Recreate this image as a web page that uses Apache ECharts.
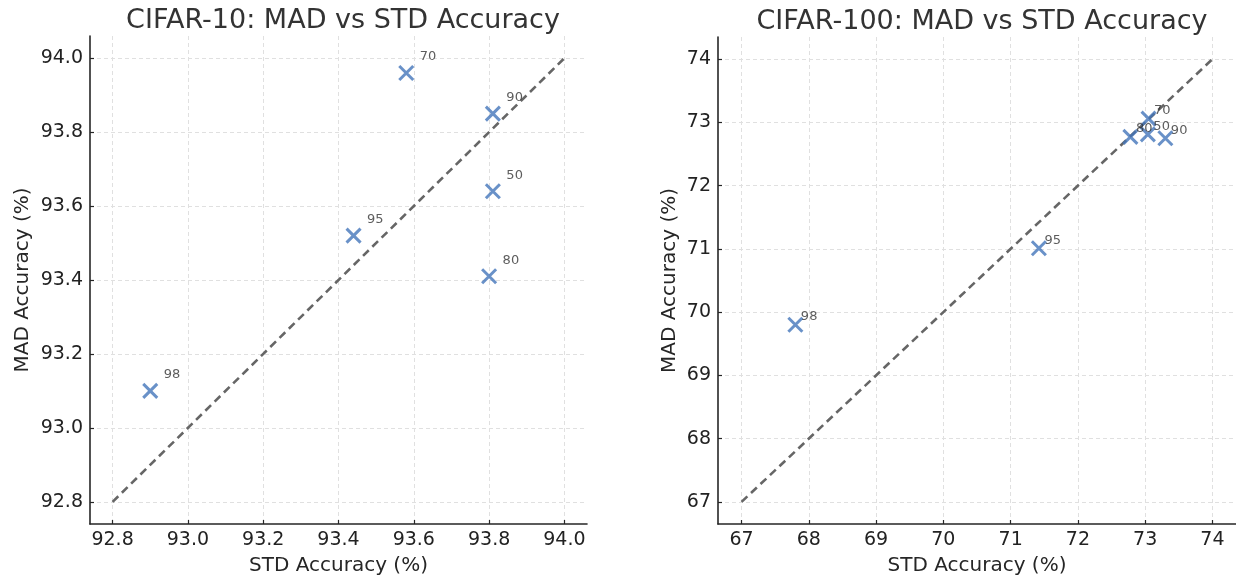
<!DOCTYPE html>
<html>
<head>
<meta charset="utf-8">
<script src="https://cdn.jsdelivr.net/npm/echarts@6/dist/echarts.min.js"></script>
<style>
  html, body { margin: 0; padding: 0; background: #fff; }
  #chart { width: 1236px; height: 581px; }
</style>
</head>
<body>
<div id="chart"></div>
<script>
// Pruning ratios used as point labels
const c10Labels = ['50', '70', '80', '90', '95', '98'];
const c10Std = [93.81, 93.58, 93.80, 93.81, 93.44, 92.90];
const c10Mad = [93.64, 93.96, 93.41, 93.85, 93.52, 93.10];
const c10Ticks = [92.8, 93.0, 93.2, 93.4, 93.6, 93.8, 94.0];
const c10Diag = [92.8, 94.0];

const c100Labels = ['50', '70', '80', '90', '95', '98'];
const c100Std = [73.04, 73.05, 72.78, 73.30, 71.42, 67.80];
const c100Mad = [72.81, 73.06, 72.77, 72.75, 71.01, 69.80];
const c100Ticks = [67, 68, 69, 70, 71, 72, 73, 74];
const c100Diag = [67, 74];

const FONT = '"DejaVu Sans", sans-serif';
const BLUE = '#4476ba';
const CROSS = 'path://M0,0L10,10M10,0L0,10';

// 5% margin around the identity line's span
function pad(range) {
  const span = range[1] - range[0];
  return [range[0] - span * 0.05, range[1] + span * 0.05];
}

function axis(gridIndex, name, ticks, lim, decimals, isY) {
  return {
    type: 'value',
    gridIndex: gridIndex,
    name: name,
    nameLocation: 'middle',
    nameGap: isY ? 57 : 32,
    nameTextStyle: { fontFamily: FONT, fontSize: 20, color: '#262626' },
    min: lim[0],
    max: lim[1],
    axisLine: { show: true, lineStyle: { color: '#262626', width: 1.6 } },
    axisTick: { show: true, inside: true, length: 4, customValues: ticks,
                lineStyle: { color: '#262626', width: 1.2 } },
    axisLabel: {
      customValues: ticks,
      fontFamily: FONT, fontSize: 19, color: '#222', margin: 7,
      formatter: v => v.toFixed(decimals)
    },
    splitLine: { show: true, lineStyle: { color: '#e0e0e0', type: [4, 3], width: 1 } }
  };
}

function scatter(idx, xs, ys, labels, offset) {
  return {
    type: 'scatter',
    xAxisIndex: idx, yAxisIndex: idx,
    symbol: CROSS,
    symbolSize: 14,
    itemStyle: { color: 'rgba(0,0,0,0)', borderColor: BLUE, borderWidth: 3 },
    label: {
      show: true, position: 'right', distance: 0, offset: offset,
      fontFamily: FONT, fontSize: 13, color: '#333',
      formatter: p => labels[p.dataIndex]
    },
    data: xs.map((x, i) => [x, ys[i]]),
    z: 3
  };
}

function diagonal(idx, d) {
  return {
    type: 'line',
    xAxisIndex: idx, yAxisIndex: idx,
    data: [[d[0], d[0]], [d[1], d[1]]],
    symbol: 'none',
    lineStyle: { color: '#666', width: 2.6, type: [8, 5] },
    z: 2
  };
}

const c10Lim = pad(c10Diag);
const c100Lim = pad(c100Diag);

const chart = echarts.init(document.getElementById('chart'), null, { renderer: 'canvas' });
chart.setOption({
  animation: false,
  title: [
    { text: 'CIFAR-10: MAD vs STD Accuracy', left: 338, top: 2, textAlign: 'center',
      textStyle: { fontFamily: FONT, fontSize: 27, fontWeight: 'normal', color: '#333' } },
    { text: 'CIFAR-100: MAD vs STD Accuracy', left: 977, top: 3, textAlign: 'center',
      textStyle: { fontFamily: FONT, fontSize: 27, fontWeight: 'normal', color: '#333' } }
  ],
  grid: [
    { left: 90, top: 36, width: 497, height: 493 },
    { left: 718, top: 37, width: 518, height: 492 }
  ],
  xAxis: [
    axis(0, 'STD Accuracy (%)', c10Ticks, c10Lim, 1, false),
    axis(1, 'STD Accuracy (%)', c100Ticks, c100Lim, 0, false)
  ],
  yAxis: [
    axis(0, 'MAD Accuracy (%)', c10Ticks, c10Lim, 1, true),
    Object.assign(axis(1, 'MAD Accuracy (%)', c100Ticks, c100Lim, 0, true), { nameGap: 38 })
  ],
  series: [
    diagonal(0, c10Diag),
    scatter(0, c10Std, c10Mad, c10Labels, [5, -16]),
    diagonal(1, c100Diag),
    scatter(1, c100Std, c100Mad, c100Labels, [-3, -8])
  ]
});
</script>
</body>
</html>
